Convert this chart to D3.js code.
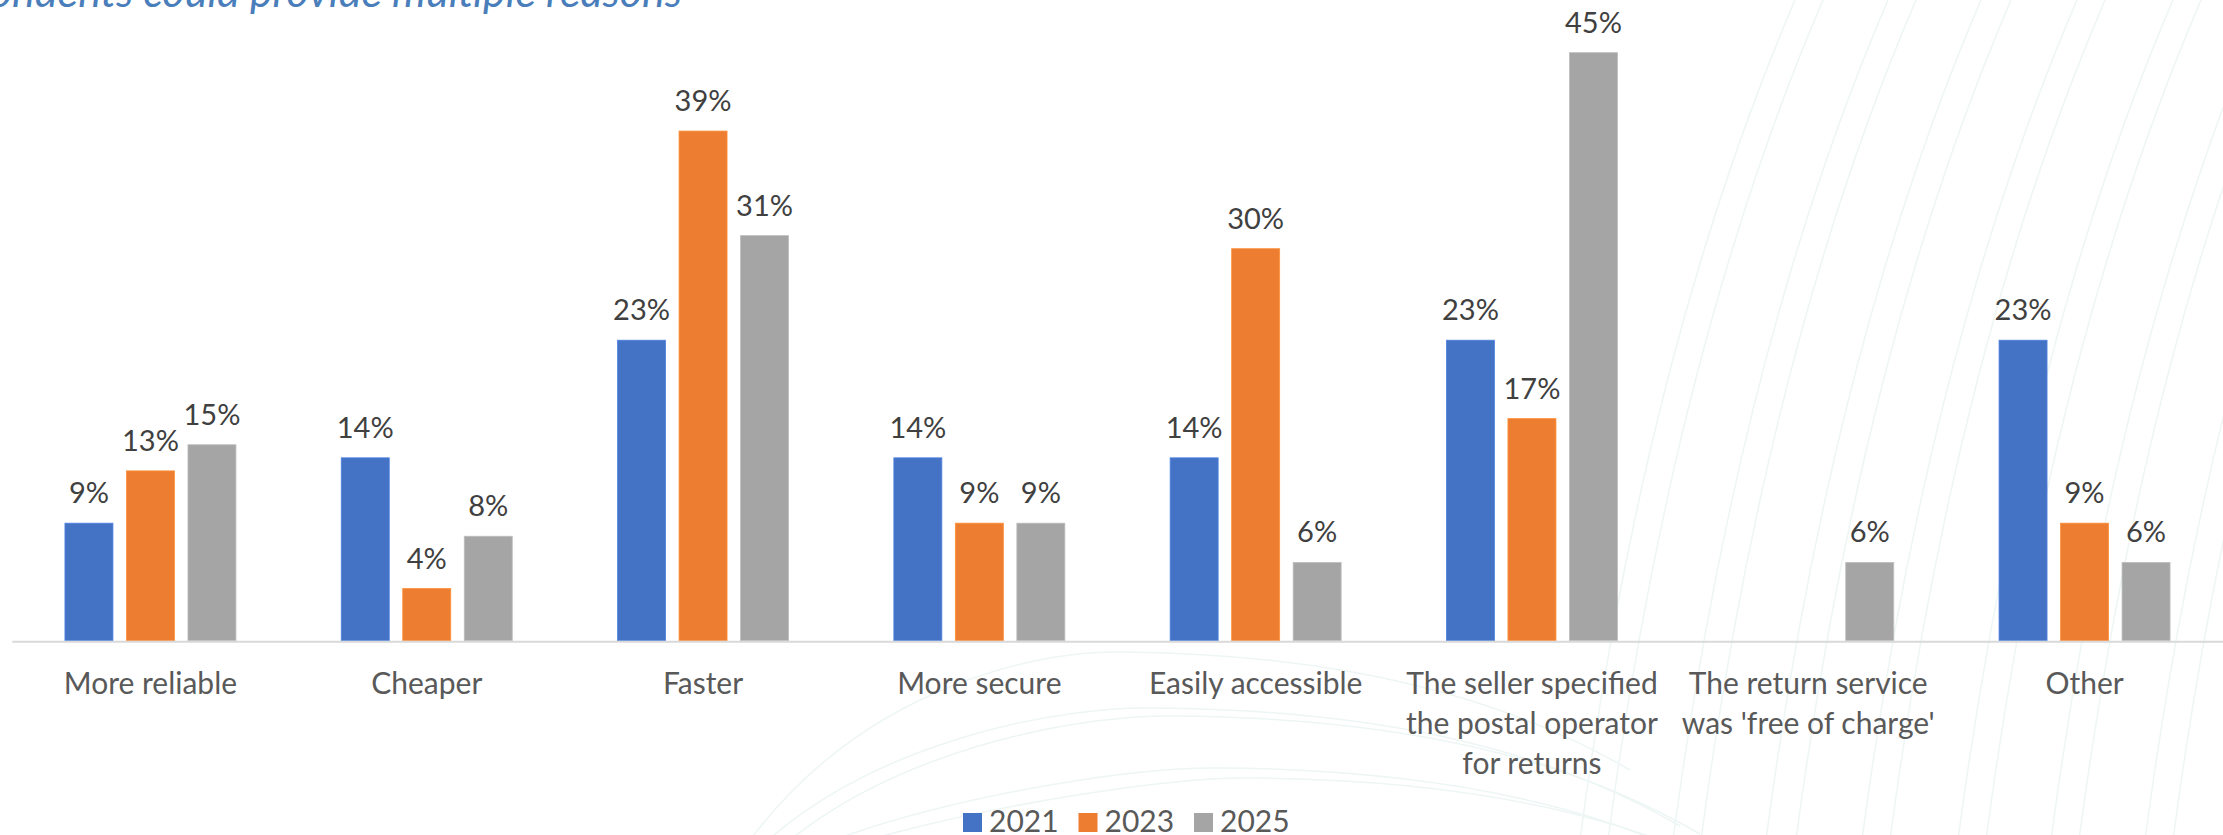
<!DOCTYPE html>
<html>
<head>
<meta charset="utf-8">
<script src="https://cdn.jsdelivr.net/npm/d3@7"></script>
<style>
  html, body { margin: 0; padding: 0; background: #ffffff; }
  svg { display: block; }
  text { font-family: Lato, "Open Sans", sans-serif; }
</style>
</head>
<body>
<svg id="chart" width="2223" height="835"></svg>
<script>
// Reasons for choosing a postal operator for returns, by survey year
const categories = [
  "More reliable", "Cheaper", "Faster", "More secure", "Easily accessible",
  "The seller specified the postal operator for returns",
  "The return service was 'free of charge'", "Other"
];
const tickLines = [
  ["More reliable"], ["Cheaper"], ["Faster"], ["More secure"], ["Easily accessible"],
  ["The seller specified", "the postal operator", "for returns"],
  ["The return service", "was 'free of charge'"],
  ["Other"]
];
const seriesNames = ["2021", "2023", "2025"];
const values2021 = [9, 14, 23, 14, 14, 23, null, 23];
const values2023 = [13, 4, 39, 9, 30, 17, null, 9];
const values2025 = [15, 8, 31, 9, 6, 45, 6, 6];
const seriesColors = ["#4472C4", "#ED7D31", "#A5A5A5"];
const subtitle = "Respondents could provide multiple reasons";

const seriesValues = [values2021, values2023, values2025];

const svg = d3.select("#chart");
const W = 2223, H = 835;
const baseY = 640.8;

// faint decorative background strokes
const deco = svg.append("g").attr("fill", "none").attr("stroke", "#edf6f5").attr("stroke-width", 1.5);
const fanStarts = [1795, 1823, 1888, 1916, 1981, 2011, 2077, 2105, 2173, 2201, 2266, 2294, 2360, 2388];
fanStarts.forEach(x0 => {
  const p = d3.path();
  p.moveTo(x0, 0);
  p.quadraticCurveTo(x0 - 150, 350, x0 - 215, 840);
  deco.append("path").attr("d", p.toString());
});
const arcs = [
  [750, 660, 1250], [768, 716, 1300], [790, 724, 1320], [834, 776, 1370], [868, 786, 1400]
];
arcs.forEach(([xs, ytop, xr]) => {
  const p = d3.path();
  p.moveTo(xs, 840);
  p.bezierCurveTo(xs + 120, ytop + 20, xs + 300, ytop - 10, (xs + xr) / 2 + 120, ytop - 8);
  p.bezierCurveTo(xr + 100, ytop - 6, xr + 260, ytop + 40, xr + 380, ytop + 110);
  deco.append("path").attr("d", p.toString());
});

// subtitle, partly above the visible area
svg.append("text")
  .attr("x", 682).attr("y", 7)
  .attr("text-anchor", "end")
  .attr("font-style", "italic")
  .attr("font-size", 43)
  .attr("fill", "#4a7ebb")
  .text(subtitle);

// scales
const x0 = d3.scaleBand().domain(categories).range([12.3, 12.3 + 8 * 276.3]).padding(0);
const x1 = d3.scaleBand().domain(seriesNames).range([0, x0.bandwidth()])
  .paddingInner(0.2195).paddingOuter(0.856);
const y = d3.scaleLinear().domain([0, 45]).range([baseY, baseY - 45 * 13.07]);
const color = d3.scaleOrdinal().domain(seriesNames).range(seriesColors);

const rows = categories.map((c, i) => ({
  category: c,
  items: seriesNames.map((s, k) => ({ series: s, value: seriesValues[k][i] }))
    .filter(d => d.value != null)
}));

const groups = svg.append("g").selectAll("g")
  .data(rows).join("g")
  .attr("transform", d => `translate(${x0(d.category)},0)`);

groups.selectAll("rect")
  .data(d => d.items).join("rect")
  .attr("x", d => x1(d.series))
  .attr("width", x1.bandwidth())
  .attr("y", d => y(d.value))
  .attr("height", d => y(0) - y(d.value))
  .attr("fill", d => color(d.series))
  .attr("stroke", d => d3.color(color(d.series)).brighter(0.4))
  .attr("stroke-width", 0.8);

groups.selectAll("text.val")
  .data(d => d.items).join("text")
  .attr("class", "val")
  .attr("x", d => x1(d.series) + x1.bandwidth() / 2)
  .attr("y", d => y(d.value) - 20)
  .attr("text-anchor", "middle")
  .attr("font-size", 29)
  .attr("fill", "#404040")
  .text(d => d3.format("d")(d.value) + "%");

// category axis
const axis = svg.append("g")
  .attr("transform", `translate(0,${baseY + 1})`)
  .call(d3.axisBottom(x0).tickSize(0).tickSizeOuter(0));
axis.select(".domain").attr("stroke", "#d9d9d9").attr("stroke-width", 2)
  .attr("d", `M${x0.range()[0]},0H${W}`);
axis.selectAll(".tick text").each(function (d) {
  const t = d3.select(this);
  const lines = tickLines[categories.indexOf(d)];
  t.text(null).attr("y", null).attr("dy", null)
    .attr("font-family", "Lato, 'Open Sans', sans-serif")
    .attr("font-size", 30).attr("fill", "#595959");
  lines.forEach((ln, j) => {
    t.append("tspan").attr("x", 0).attr("y", 52.5 + j * 39.7).text(ln);
  });
});

// legend
const legend = svg.append("g").attr("transform", "translate(963,813)");
const legendX = d3.scalePoint().domain(seriesNames).range([0, 231]);
const li = legend.selectAll("g").data(seriesNames).join("g")
  .attr("transform", d => `translate(${legendX(d)},0)`);
li.append("rect").attr("width", 19).attr("height", 19).attr("fill", d => color(d));
li.append("text").attr("x", 26).attr("y", 19).attr("font-size", 30)
  .attr("fill", "#595959").text(d => d);
</script>
</body>
</html>
